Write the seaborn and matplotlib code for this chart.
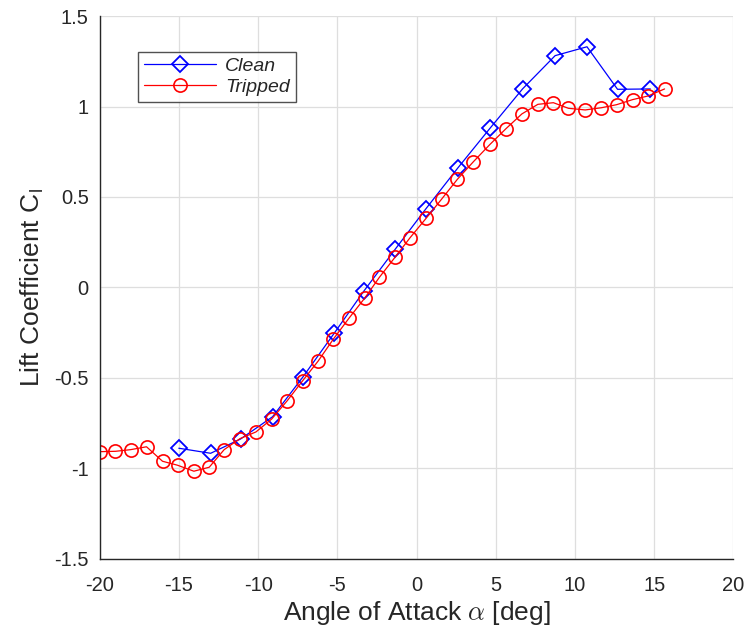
import numpy as np                  # arrays
import pandas as pd                 # handy data table tools
import seaborn as sns               # plotting
import matplotlib.pyplot as plt     # plotting

#####################
###     DATA     ####
#####################
clean_alpha = [-15.01, -13.0, -11.11, -9.09, -7.19, -5.21, -3.32, -1.36, 0.60, 2.62,
               4.64, 6.69, 8.75, 10.76, 12.69, 14.76]
clean_cl = [-0.888, -0.916, -0.837, -0.714, -0.496, -0.254, -0.019, 0.210, 0.436, 0.662,
            0.880, 1.097, 1.281, 1.330, 1.095, 1.097]

tripped_alpha = [-19.96, -19.01, -18.06, -17.05, -16.04, -15.09, -14.06, -13.09, -12.15, -11.15,
                 -10.14, -9.15, -8.16, -7.19, -6.21, -5.26, -4.27, -3.25, -2.35, -1.36,
                 -0.41, 0.60, 1.59, 2.58, 3.59, 4.64, 5.64, 6.65, 7.66, 8.64,
                 9.59, 10.65, 11.66, 12.63, 13.64, 14.61, 15.66]
tripped_cl = [-0.907, -0.905, -0.896, -0.880, -0.960, -0.982, -1.015, -0.993, -0.896, -0.835,
              -0.798, -0.727, -0.625, -0.515, -0.406, -0.286, -0.170, -0.056, 0.056, 0.167,
              0.275, 0.382, 0.489, 0.598, 0.695, 0.791, 0.877, 0.959, 1.012, 1.021,
              0.990, 0.981, 0.993, 1.010, 1.038, 1.058, 1.097]

series_names = ['Clean', 'Tripped']
x_ticks = [-20, -15, -10, -5, 0, 5, 10, 15, 20]
y_ticks = [-1.5, -1, -0.5, 0, 0.5, 1, 1.5]
y_ticklabels = ['-1.5', '-1', '-0.5', '0', '0.5', '1', '1.5']

clean = pd.DataFrame({'alpha': clean_alpha, 'cl': clean_cl})
tripped = pd.DataFrame({'alpha': tripped_alpha, 'cl': tripped_cl})

#####################
###   PLOTTING   ####
#####################
sns.set_style('white')
plt.rcParams['font.family'] = ['Liberation Sans', 'DejaVu Sans']
plt.rcParams['mathtext.fontset'] = 'cm'

fig = plt.figure(figsize=(7.56, 6.35), dpi=100)
ax = fig.add_axes([0.132, 0.1197, 0.838, 0.8551])

sns.lineplot(x='alpha', y='cl', data=clean, ax=ax, estimator=None, sort=False,
             color='blue', lw=0.9, marker='D', ms=7.8, mfc='none', mec='blue', mew=1.3,
             label=series_names[0])
sns.lineplot(x='alpha', y='cl', data=tripped, ax=ax, estimator=None, sort=False,
             color='red', lw=0.9, marker='o', ms=9.5, mfc='none', mec='red', mew=1.2,
             label=series_names[1])

ax.set(xlim=(-20, 20), ylim=(-1.5, 1.5))
ax.set_xticks(x_ticks)
ax.set_yticks(y_ticks)
ax.set_xticklabels([str(t) for t in x_ticks])
ax.set_yticklabels(y_ticklabels)
ax.grid(True, color='#dedede', lw=0.9)
ax.tick_params(direction='in', length=5, width=1, colors='#262626', labelsize=14.5)
ax.tick_params(axis='x', pad=12)
ax.tick_params(axis='y', pad=8)
for s in ['top', 'right']:
    ax.spines[s].set_visible(False)
for s in ['left', 'bottom']:
    ax.spines[s].set_color('#262626')
    ax.spines[s].set_linewidth(1)

ax.set_xlabel(r'Angle of Attack $\alpha$ [deg]', fontsize=19, color='#262626', labelpad=3)
ax.set_ylabel(r'Lift Coefficient C$_\mathregular{l}$', fontsize=19, color='#262626', labelpad=6)

leg = ax.legend(loc='upper left', bbox_to_anchor=(0.06, 0.934), borderaxespad=0,
                frameon=True, fancybox=False, edgecolor='#262626',
                prop={'style': 'italic', 'size': 14}, handlelength=3.7,
                handletextpad=0.5, borderpad=0.3, labelspacing=0.15)
leg.get_frame().set_linewidth(1)

fig.savefig('out.png', dpi=100)
plt.close()
